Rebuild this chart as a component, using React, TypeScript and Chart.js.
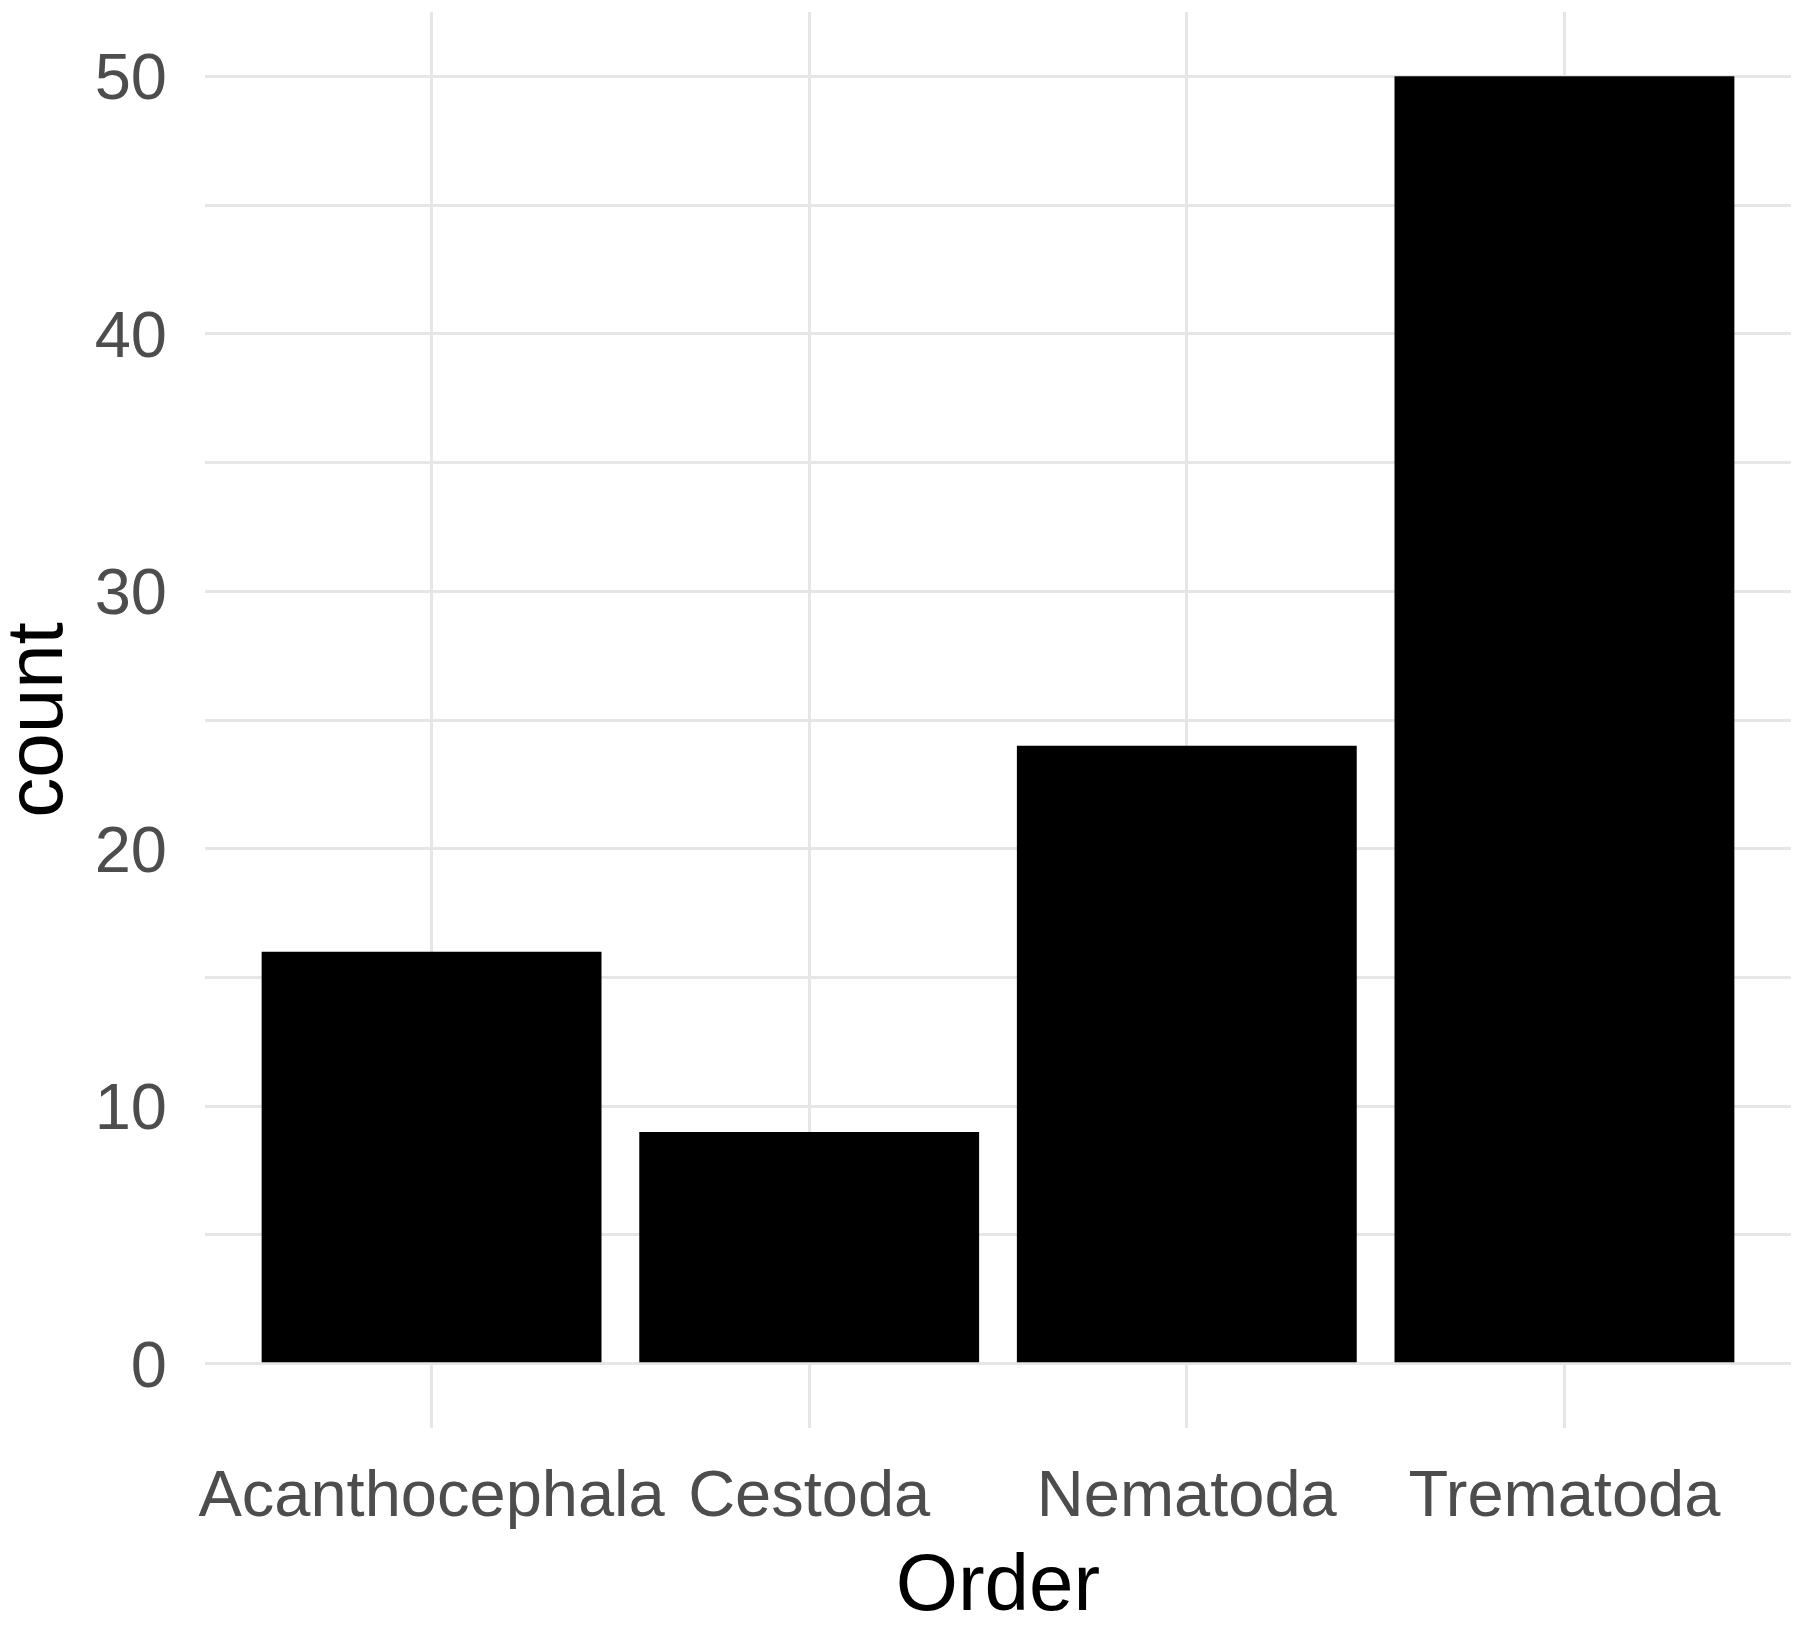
import React, { useEffect, useRef } from 'react';
import { Chart, registerables } from 'chart.js';

Chart.register(...registerables);

const categories = ['Acanthocephala', 'Cestoda', 'Nematoda', 'Trematoda'];
const counts = [16, 9, 24, 50];
const yTickValues = [0, 5, 10, 15, 20, 25, 30, 35, 40, 45, 50];
const yLabelValues = [0, 10, 20, 30, 40, 50];
const xTitle = 'Order';
const yTitle = 'count';

const FONT = "'Liberation Sans', Arial, sans-serif";

export default function App() {
  const ref = useRef<HTMLCanvasElement>(null);
  useEffect(() => {
    document.body.style.margin = '0';
    const chart = new Chart(ref.current!, {
      type: 'bar',
      data: {
        datasets: [
          {
            data: categories.map((c, i) => ({ x: i, y: counts[i] })),
            backgroundColor: '#000000',
            borderWidth: 0,
            barPercentage: 0.9,
            categoryPercentage: 1,
          },
        ],
      },
      options: {
        animation: false,
        responsive: false,
        layout: { padding: { top: 12, right: 9, bottom: 0, left: 0 } },
        plugins: { legend: { display: false }, tooltip: { enabled: false } },
        scales: {
          x: {
            type: 'linear',
            offset: false,
            min: -0.6,
            max: 3.6,
            afterBuildTicks: (s: any) => {
              s.ticks = categories.map((_, i) => ({ value: i }));
            },
            afterFit: (s: any) => {
              s.height = 197;
              s.paddingLeft = 0;
              s.paddingRight = 0;
            },
            ticks: {
              autoSkip: false,
              maxRotation: 0,
              minRotation: 0,
              padding: 31,
              color: '#4d4d4d',
              font: { family: FONT, size: 65 },
              callback: (v: any) => categories[Number(v)] ?? '',
            },
            grid: { color: '#e6e6e6', lineWidth: 3, drawTicks: false, offset: false },
            border: { display: false },
            title: {
              display: true,
              text: xTitle,
              color: '#000000',
              padding: 0,
              font: { family: FONT, size: 80, lineHeight: 0.925 },
            },
          },
          y: {
            type: 'linear',
            min: -2.5,
            max: 52.5,
            afterBuildTicks: (s: any) => {
              s.ticks = yTickValues.map((v) => ({ value: v }));
            },
            afterFit: (s: any) => {
              s.width = 205;
              s.paddingTop = 0;
              s.paddingBottom = 0;
            },
            ticks: {
              autoSkip: false,
              padding: 38,
              color: '#4d4d4d',
              font: { family: FONT, size: 65, lineHeight: '10px' as any },
              callback: (v: any) => (yLabelValues.includes(Number(v)) ? ['', String(v)] : ''),
            },
            grid: { color: '#e6e6e6', lineWidth: 3, drawTicks: false },
            border: { display: false },
            title: {
              display: true,
              text: yTitle,
              color: '#000000',
              padding: 0,
              font: { family: FONT, size: 80, lineHeight: 1 },
            },
          },
        },
      },
    });
    return () => chart.destroy();
  }, []);
  return <canvas ref={ref} width={1800} height={1625} style={{ display: 'block' }} />;
}
